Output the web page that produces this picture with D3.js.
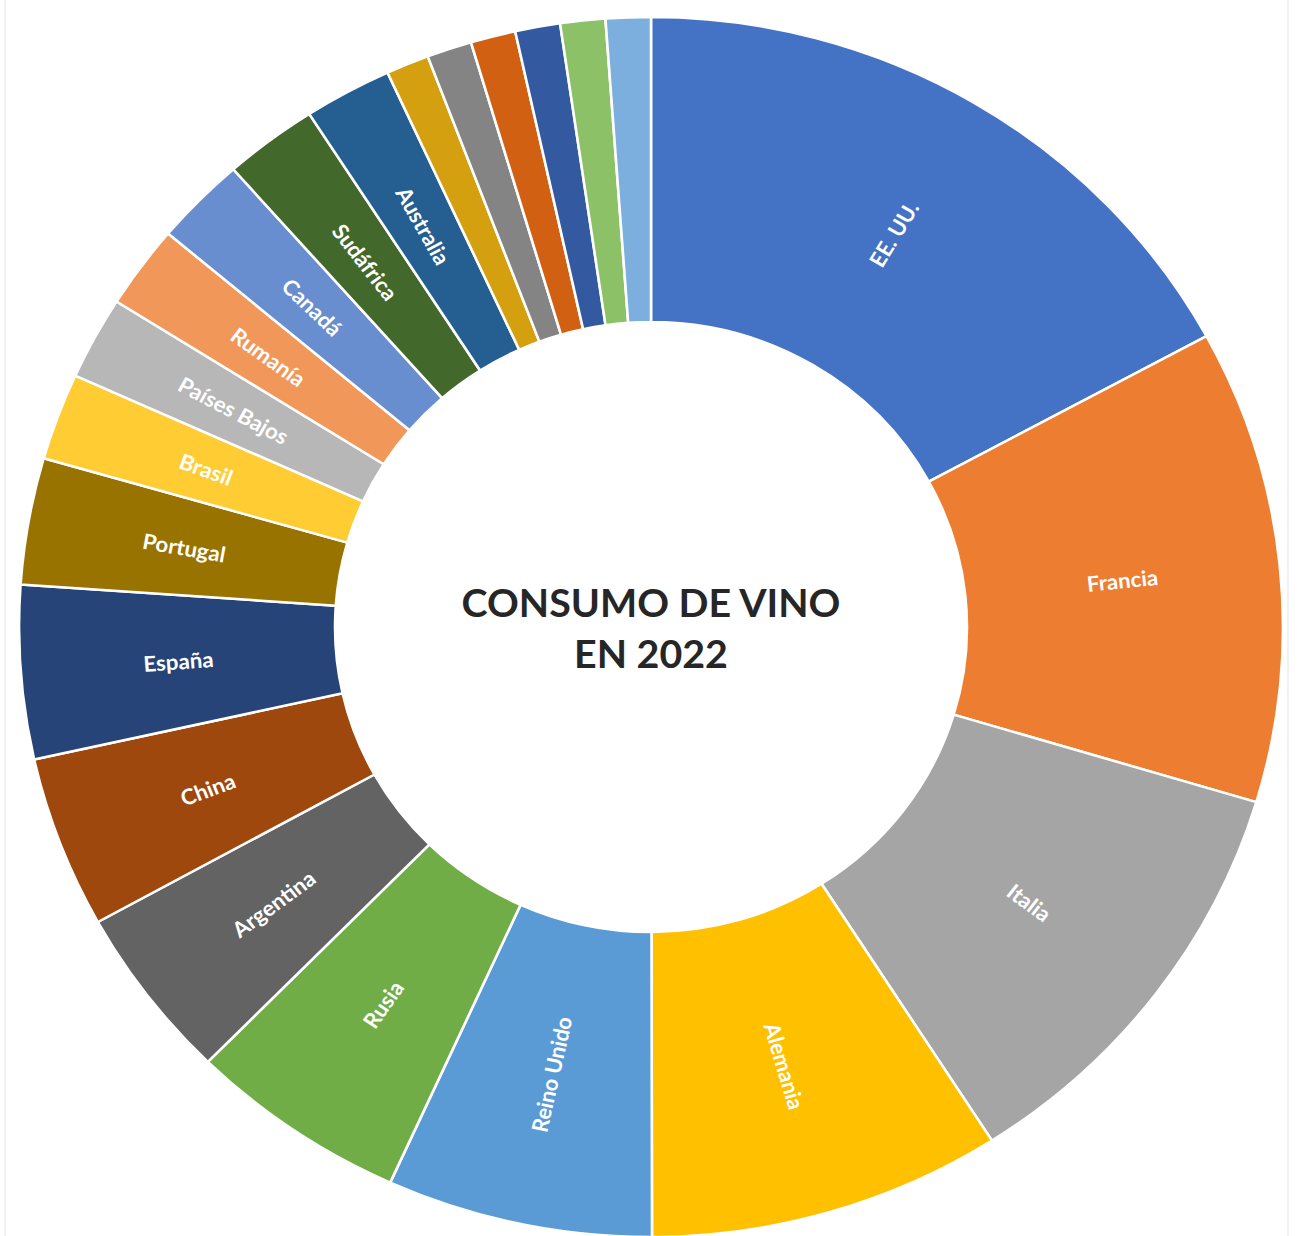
<!DOCTYPE html>
<html>
<head>
<meta charset="utf-8">
<script src="https://cdn.jsdelivr.net/npm/d3@7"></script>
<style>
  html, body { margin: 0; padding: 0; background: #fff; }
  svg { display: block; }
</style>
</head>
<body>
<script>
// Wine consumption 2022 (millions of hectolitres), in drawing order
const countries = ["EE. UU.", "Francia", "Italia", "Alemania", "Reino Unido", "Rusia",
  "Argentina", "China", "España", "Portugal", "Brasil", "Países Bajos", "Rumanía",
  "Canadá", "Sudáfrica", "Australia", "Japón", "Bélgica", "Suiza", "Austria", "Suecia", "Chequia"];
const consumption = [34.2, 25.1, 22.6, 18.1, 13.6, 11.2, 9.2, 9.1, 9.2, 6.7, 4.6, 4.4, 4.4,
  4.7, 4.8, 4.5, 2.2, 2.3, 2.3, 2.3, 2.3, 2.3];
const sliceColors = ["#4472C4", "#ED7D31", "#A5A5A5", "#FFC000", "#5B9BD5", "#70AD47",
  "#636363", "#9E480E", "#264478", "#997300", "#FFCD33", "#B7B7B7", "#F1975A",
  "#698ED0", "#43682B", "#255E91", "#D4A010", "#848484", "#D26012", "#335AA1", "#8CC168", "#7CAFDD"];
const titleLines = ["CONSUMO DE VINO", "EN 2022"];

const width = 1301, height = 1236;
const cx = 651, cy = 627;
const outerR = 610, innerR = 305, stretchX = 1.036;
const minLabelValue = 4;

const svg = d3.select("body").append("svg")
  .attr("width", width).attr("height", height);

svg.append("rect").attr("width", width).attr("height", height).attr("fill", "#fff");
// thin frame lines at the sides
svg.append("line").attr("x1", 5).attr("x2", 5).attr("y1", 0).attr("y2", height)
  .attr("stroke", "#ececec").attr("stroke-width", 1.5);
svg.append("line").attr("x1", 1288).attr("x2", 1288).attr("y1", 0).attr("y2", height)
  .attr("stroke", "#ececec").attr("stroke-width", 1.5);

const g = svg.append("g")
  .attr("transform", `translate(${cx},${cy}) scale(${stretchX},1)`);

const data = countries.map((name, i) => ({ name, value: consumption[i], color: sliceColors[i] }));

const pie = d3.pie().sort(null).value(d => d.value);
const arcs = pie(data);

const arc = d3.arc().innerRadius(innerR).outerRadius(outerR);
const labelArc = d3.arc().innerRadius((innerR + outerR) / 2).outerRadius((innerR + outerR) / 2);

g.selectAll("path.slice")
  .data(arcs)
  .join("path")
  .attr("class", "slice")
  .attr("d", arc)
  .attr("fill", d => d.data.color)
  .attr("stroke", "#fff")
  .attr("stroke-width", 2.5)
  .attr("stroke-linejoin", "round");

// radial labels, kept upright
g.selectAll("text.label")
  .data(arcs.filter(d => d.data.value >= minLabelValue))
  .join("text")
  .attr("class", "label")
  .attr("transform", d => {
    const [x, y] = labelArc.centroid(d);
    const mid = (d.startAngle + d.endAngle) / 2 * 180 / Math.PI;
    const rot = mid <= 180 ? mid - 90 : mid - 270;
    return `translate(${x},${y}) rotate(${rot})`;
  })
  .attr("text-anchor", "middle")
  .attr("dominant-baseline", "central")
  .attr("fill", "#fff")
  .style("font-family", "Lato, 'Open Sans', sans-serif")
  .style("font-weight", "700")
  .style("font-size", "21.5px")
  .text(d => d.data.name);

// centre title
g.selectAll("text.title")
  .data(titleLines)
  .join("text")
  .attr("class", "title")
  .attr("x", 0)
  .attr("y", (d, i) => -10 + i * 51)
  .attr("text-anchor", "middle")
  .attr("fill", "#262626")
  .style("font-family", "Lato, 'Open Sans', sans-serif")
  .style("font-weight", "700")
  .style("font-size", "38px")
  .text(d => d);
</script>
</body>
</html>
